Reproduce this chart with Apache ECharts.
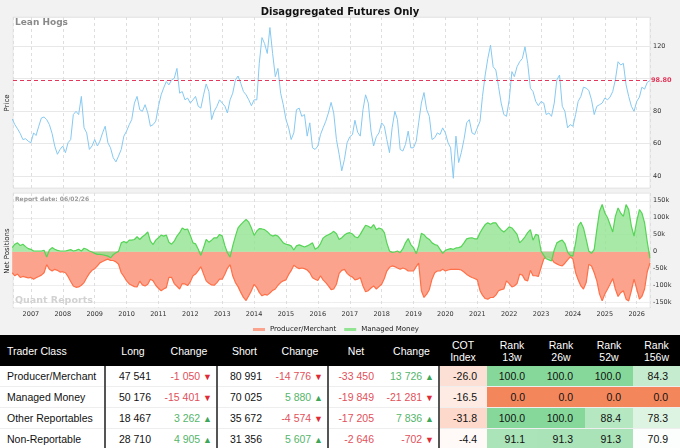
<!DOCTYPE html>
<html><head><meta charset="utf-8">
<script src="https://cdn.jsdelivr.net/npm/echarts@6/dist/echarts.min.js"></script>
<style>
html,body{margin:0;padding:0;background:#f2f2f2;width:680px;height:448px;overflow:hidden}
#chart{width:680px;height:335px}
table{border-collapse:collapse;width:680px;table-layout:fixed;font-family:"Liberation Sans",Arial,sans-serif;font-size:10.5px;color:#111;background:#fff}
th{background:#000;color:#fff;font-weight:normal;height:31px;padding:0;text-align:center;line-height:12px}
th.l{text-align:left;padding-left:7px}
td{height:20px;padding:0 10px 0 0;text-align:right;border-bottom:1px solid #eee;white-space:nowrap}
td.l{text-align:left;padding-left:7px}
td.c{padding-right:4px}
.sep{border-right:2px solid #555}
</style></head>
<body>
<div id="chart"></div>
<table id="tbl"></table>
<script>
// ---- chart data (monthly, Jun 2006 .. May 2026, plus final report 2026-06-02) ----
const startYear = 2006, startMonth = 5; // June 2006
const finalDate = '2026-06-02';
const priceValues = [
75.1,71.6,69.0,66.1,62.4,62.9,61.4,
60.4,66.5,64.9,70.6,75.7,76.3,74.7,71.6,66.1,58.4,53.3,56.3,
58.4,54.3,60.4,62.4,77.8,79.8,77.8,89.0,69.6,66.5,56.3,58.4,
62.4,58.4,61.4,66.5,70.6,60.4,57.3,51.2,48.6,52.2,56.3,64.5,
67.6,71.6,74.7,84.9,89.0,80.8,79.8,83.9,78.8,70.6,71.6,73.7,
82.9,90.0,94.1,98.2,96.1,99.2,100.2,106.3,91.0,92.0,86.9,88.0,
84.9,86.9,89.0,82.9,81.8,90.0,96.7,92.0,74.7,79.8,82.9,86.9,
84.9,82.9,78.8,86.9,91.0,99.2,101.6,97.1,92.0,90.0,86.9,83.3,
86.9,86.9,109.4,125.3,121.6,115.5,131.5,115.5,101.2,106.3,91.0,83.9,
74.7,69.6,62.4,66.5,80.8,81.8,76.7,77.8,64.5,72.7,57.3,56.3,
58.4,65.5,69.6,73.7,78.8,85.3,78.8,62.4,53.3,43.1,50.2,60.4,
64.1,65.5,74.3,66.9,64.5,80.8,90.0,84.9,67.6,58.4,64.1,66.5,
72.7,70.6,62.4,54.3,69.6,79.8,74.7,56.3,55.3,59.4,67.6,57.3,
57.3,61.4,72.7,84.9,91.4,80.8,76.7,62.4,63.5,66.5,65.5,69.6,
66.5,60.4,57.3,38.5,64.5,48.2,54.3,62.4,72.7,74.7,66.5,65.5,
69.6,73.7,89.0,102.2,112.4,120.6,107.3,105.3,95.1,84.9,77.8,76.7,
86.9,104.3,101.2,107.3,110.4,112.4,119.6,109.4,94.1,92.0,85.9,83.3,
85.9,84.9,77.8,78.8,76.7,84.9,99.2,102.2,82.9,79.8,69.6,71.6,
70.6,77.8,85.9,89.0,94.7,94.1,92.7,86.9,77.8,82.9,83.9,84.9,
88.0,86.9,88.6,92.0,99.2,110.4,108.4,109.4,96.1,89.0,82.9,79.8,
85.9,88.6,94.7,93.5,97.6,
98.8];
// net positions, thousands of contracts
const producerNet = [
-62,-71,-66,-76,-73,-75,-77,
-76,-81,-77,-73,-69,-62,-38,-52,-57,-52,-55,-60,
-59,-62,-73,-88,-101,-105,-104,-99,-91,-77,-64,-55,
-50,-42,-33,-29,-25,-22,-26,-26,-30,-37,-62,-73,
-86,-95,-99,-103,-104,-87,-98,-101,-96,-81,-86,-99,
-108,-115,-110,-106,-76,-76,-94,-102,-110,-94,-95,-100,
-89,-71,-66,-56,-44,-66,-86,-93,-98,-99,-91,-81,
-81,-66,-49,-38,-71,-91,-103,-120,-135,-144,-130,-115,
-96,-106,-120,-130,-126,-128,-122,-114,-110,-99,-91,-86,
-83,-67,-56,-40,-46,-50,-48,-50,-54,-62,-77,-81,
-85,-71,-83,-91,-101,-112,-110,-96,-64,-55,-52,-64,
-71,-75,-83,-81,-76,-101,-118,-115,-107,-101,-110,-103,
-96,-79,-57,-46,-42,-44,-48,-52,-48,-51,-57,-57,
-57,-44,-34,-115,-135,-125,-112,-81,-62,-57,-57,-52,
-57,-54,-52,-52,-52,-52,-54,-60,-67,-72,-76,-79,
-83,-115,-128,-138,-140,-135,-135,-128,-115,-112,-110,-86,
-94,-104,-101,-94,-66,-69,-83,-86,-55,-71,-71,-73,
-47,-22,-15,-16,-21,-32,-36,-40,-42,-34,-24,-15,
-22,-62,-83,-101,-110,-91,-37,-42,-62,-86,-125,-145,
-125,-110,-96,-79,-110,-132,-121,-115,-140,-145,-115,-81,
-110,-140,-132,-110,-60,
-33.5];
const managedNet = [
12,22,26,18,22,15,9,
7,2,2,2,2,4,-16,5,12,7,4,2,
2,2,4,6,2,4,7,2,10,7,2,-1,
-5,-8,-8,-9,-11,-13,-18,-9,-3,1,26,30,
26,34,34,36,44,36,44,50,58,31,21,34,
41,49,46,49,28,22,31,46,56,70,65,67,
48,26,23,7,-11,12,36,28,34,41,41,51,
46,17,-3,-16,17,46,70,80,88,95,87,70,
48,61,68,67,65,59,51,46,49,46,36,26,
22,20,17,5,17,20,17,14,17,21,26,7,
12,24,40,46,50,54,60,53,36,41,49,54,
56,52,44,41,51,65,78,75,70,80,65,70,
67,56,26,2,-2,-1,2,-3,9,26,39,21,
12,-6,17,54,50,41,36,26,21,19,7,-5,
4,7,9,7,11,12,15,26,38,40,41,38,
38,56,68,80,85,81,85,85,73,64,58,65,
73,70,61,51,26,34,44,56,65,34,51,48,
2,-11,-21,-24,-27,5,26,31,34,24,-1,-11,
-13,26,75,87,70,36,2,-5,7,65,119,139,
114,100,80,58,104,129,114,104,139,124,75,46,
90,124,114,85,30,
-19.8];
const seriesNames = ['Producer/Merchant','Managed Money'];
const yearLabelFormat = '{yyyy}';

// ---- table data ----
const traderClasses = ['Producer/Merchant','Managed Money','Other Reportables','Non-Reportable'];
const longs = [47541, 50176, 18467, 28710];
const longChanges = [-1050, -15401, 3262, 4905];
const shorts = [80991, 70025, 35672, 31356];
const shortChanges = [-14776, 5880, -4574, 5607];
const nets = [-33450, -19849, -17205, -2646];
const netChanges = [13726, -21281, 7836, -702];
const cotIndex = [-26.0, -16.5, -31.8, -4.4];
const rank13w = [100.0, 0.0, 100.0, 91.1];
const rank26w = [100.0, 0.0, 100.0, 91.3];
const rank52w = [100.0, 0.0, 88.4, 91.3];
const rank156w = [84.3, 0.0, 78.3, 70.9];

// ---- build chart ----
const dates = [];
for (let i = 0; i < priceValues.length - 1; i++) dates.push(Date.UTC(startYear, startMonth + i, 1));
dates.push(new Date(finalDate + 'T00:00:00Z').getTime());
const pair = arr => arr.map((v, i) => [dates[i], v]);

const F = 'DejaVu Sans';
const YEAR = 365 * 24 * 3600 * 1000;
const xMin = Date.UTC(2006, 5, 10), xMax = Date.UTC(2026, 5, 2);
const lastPrice = priceValues[priceValues.length - 1];
const red = '#ff7048', redFill = '#fba38d', green = '#55d455', greenFill = '#92e392';

const xBase = {
  type: 'time', min: xMin, max: xMax, minInterval: YEAR, maxInterval: YEAR + 86400000,
  axisLine: {show: false}, axisTick: {show: false},
  splitLine: {show: true, lineStyle: {type: [3, 3], color: '#dedede', width: 1}}
};
const chart = echarts.init(document.getElementById('chart'));
chart.setOption({
  animation: false,
  backgroundColor: '#f2f2f2',
  title: {text: 'Disaggregated Futures Only', left: 'center', top: 2,
    textStyle: {fontFamily: F, fontSize: 10, fontWeight: 'bold', color: '#111'}},
  grid: [
    {left: 13, right: 30, top: 17, height: 171, show: true, backgroundColor: '#fff', borderColor: '#e8e8e8', borderWidth: 1},
    {left: 13, right: 30, top: 193, height: 115, show: true, backgroundColor: '#fff', borderColor: '#e8e8e8', borderWidth: 1}
  ],
  xAxis: [
    Object.assign({}, xBase, {gridIndex: 0, axisLabel: {show: false}}),
    Object.assign({}, xBase, {gridIndex: 1, axisLabel: {formatter: yearLabelFormat, fontFamily: F, fontSize: 6.5, color: '#333', margin: 3}})
  ],
  yAxis: [
    {type: 'value', gridIndex: 0, position: 'right', min: 32.5, max: 138, splitNumber: 5,
      axisLine: {show: false}, axisTick: {show: false},
      axisLabel: {fontFamily: F, fontSize: 6.5, color: '#333', margin: 3, showMinLabel: false, showMaxLabel: false,
        formatter: v => (v === 100 ? '' : String(v))},
      splitLine: {lineStyle: {color: '#e8e8e8'}}},
    {type: 'value', gridIndex: 1, position: 'right', min: -166, max: 173, splitNumber: 7,
      axisLine: {show: false}, axisTick: {show: false},
      axisLabel: {fontFamily: F, fontSize: 6.5, color: '#333', margin: 3, showMinLabel: false, showMaxLabel: false,
        formatter: v => (v === 0 ? '0' : v + 'k')},
      splitLine: {lineStyle: {color: '#eeeeee'}}}
  ],
  legend: {left: 248, top: 321, itemWidth: 12, itemHeight: 3, icon: 'rect', itemGap: 8,
    textStyle: {fontFamily: F, fontSize: 7, color: '#222'}, data: seriesNames},
  graphic: [
    {type: 'text', left: 15, top: 18, z: 10, style: {text: 'Lean Hogs', font: 'bold 9px "DejaVu Sans"', fill: '#8a8a8a'}},
    {type: 'text', left: 15, top: 196, z: 10, style: {text: 'Report date: 06/02/26', font: 'bold 6px "DejaVu Sans"', fill: '#9a9a9a'}},
    {type: 'text', left: 15, top: 296, z: 10, style: {text: 'Quant Reports', font: 'bold 9.5px "DejaVu Sans"', fill: '#d2d2d2'}},
    {type: 'text', x: 7, y: 103, rotation: Math.PI / 2, z: 10, style: {text: 'Price', font: '7px "DejaVu Sans"', fill: '#222', align: 'center', verticalAlign: 'middle'}},
    {type: 'text', x: 7, y: 251, rotation: Math.PI / 2, z: 10, style: {text: 'Net Positions', font: '7px "DejaVu Sans"', fill: '#222', align: 'center', verticalAlign: 'middle'}}
  ],
  series: [
    {name: 'Price', type: 'line', xAxisIndex: 0, yAxisIndex: 0, data: pair(priceValues), showSymbol: false, symbol: 'none',
      lineStyle: {color: '#86c9f2', width: 1}, z: 3,
      markLine: {silent: true, symbol: 'none', data: [{yAxis: lastPrice}],
        lineStyle: {color: '#e3365a', type: [4, 3], width: 1.2},
        label: {position: 'end', distance: 1, formatter: lastPrice.toFixed(2), color: '#e3365a', fontFamily: F, fontSize: 6.5, fontWeight: 'bold'}}},
    {name: seriesNames[0], type: 'line', xAxisIndex: 1, yAxisIndex: 1, data: pair(producerNet), showSymbol: false, symbol: 'none',
      itemStyle: {color: redFill}, lineStyle: {color: red, width: 1.2, opacity: 1, shadowBlur: 0}, areaStyle: {color: redFill, opacity: 1}, z: 2},
    {name: seriesNames[1], type: 'line', xAxisIndex: 1, yAxisIndex: 1, data: pair(managedNet), showSymbol: false, symbol: 'none',
      itemStyle: {color: greenFill}, lineStyle: {color: green, width: 1.2, opacity: 1, shadowBlur: 0}, areaStyle: {color: greenFill, opacity: 0.8}, z: 3}
  ]
});

// ---- build table ----
const fmt = n => (n < 0 ? '-' : '') + String(Math.abs(n)).replace(/\B(?=(\d{3})+(?!\d))/g, '\u00a0');
const txtRed = '#e2505a', txtGreen = '#55b56b';
const chg = n => {
  const up = n >= 0;
  return '<span style="color:' + (up ? txtGreen : txtRed) + '">' + fmt(n) + '</span> <span style="color:' + (up ? '#3fa659' : '#e02a35') + ';font-size:9px">' + (up ? '\u25B2' : '\u25BC') + '</span>';
};
const mix = (c, t) => {
  t = Math.max(0, Math.min(1, t));
  const r = Math.round(255 + (c[0] - 255) * t), g = Math.round(255 + (c[1] - 255) * t), b = Math.round(255 + (c[2] - 255) * t);
  return 'rgb(' + r + ',' + g + ',' + b + ')';
};
const GREEN = [134, 216, 154], ORANGE = [244, 134, 92];
const rankBg = v => v >= 70 ? mix(GREEN, (v - 70) / 30) : (v <= 30 ? mix(ORANGE, (30 - v) / 30) : '#fff');
const cotBg = v => v < 0 ? mix(ORANGE, -v / 100) : mix(GREEN, v / 100);
const num = n => '<span style="color:' + (n < 0 ? txtRed : '#111') + '">' + fmt(n) + '</span>';

let html = '<colgroup>' + [105, 56, 56, 55, 56, 56, 55, 48, 50, 48, 48, 47].map(w => '<col style="width:' + w + 'px">').join('') + '</colgroup>';
html += '<tr><th class="l">Trader Class</th><th>Long</th><th>Change</th><th>Short</th><th>Change</th><th>Net</th><th>Change</th><th>COT<br>Index</th><th>Rank<br>13w</th><th>Rank<br>26w</th><th>Rank<br>52w</th><th>Rank<br>156w</th></tr>';
traderClasses.forEach((name, i) => {
  html += '<tr>' +
    '<td class="l sep">' + name + '</td>' +
    '<td>' + fmt(longs[i]) + '</td>' +
    '<td class="c sep">' + chg(longChanges[i]) + '</td>' +
    '<td>' + fmt(shorts[i]) + '</td>' +
    '<td class="c sep">' + chg(shortChanges[i]) + '</td>' +
    '<td>' + num(nets[i]) + '</td>' +
    '<td class="c sep">' + chg(netChanges[i]) + '</td>' +
    '<td style="background:' + cotBg(cotIndex[i]) + '">' + cotIndex[i].toFixed(1) + '</td>' +
    [rank13w, rank26w, rank52w, rank156w].map(a => '<td style="background:' + rankBg(a[i]) + ';padding-right:12px">' + a[i].toFixed(1) + '</td>').join('') +
    '</tr>';
});
document.getElementById('tbl').innerHTML = html;
</script>
</body></html>
